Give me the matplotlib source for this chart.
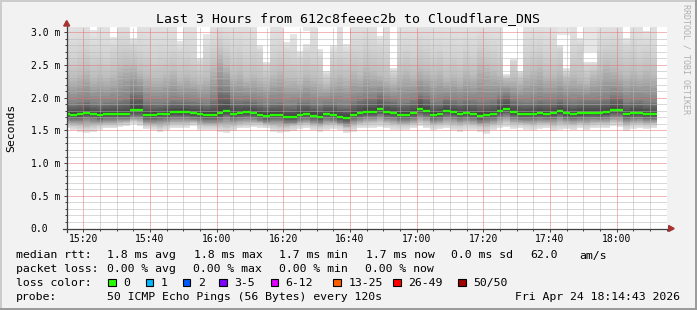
import numpy as np
import pandas as pd
import matplotlib
matplotlib.use("Agg")
import matplotlib.pyplot as plt
import matplotlib.dates as mdates
from matplotlib.patches import Rectangle, Polygon
from matplotlib.lines import Line2D
from matplotlib.ticker import MultipleLocator, FuncFormatter

W, H = 697, 310
plt.rcParams["font.family"] = "DejaVu Sans Mono"

# one value per 2 minute step, first step starts 15:14 (ms)
median = [
    1.750, 1.735, 1.745, 1.765, 1.750, 1.735, 1.750, 1.750, 1.750, 1.750, 1.806, 1.806, 1.735, 1.735, 1.750, 1.750, 1.775, 1.775, 1.775,
    1.760, 1.750, 1.735, 1.735, 1.760, 1.790, 1.750, 1.765, 1.775, 1.765, 1.740, 1.725, 1.740, 1.740, 1.705, 1.705, 1.740, 1.750,
    1.725, 1.705, 1.750, 1.740, 1.705, 1.690, 1.740, 1.765, 1.780, 1.780, 1.820, 1.775, 1.765, 1.740, 1.740, 1.765, 1.825, 1.795,
    1.740, 1.750, 1.795, 1.775, 1.750, 1.765, 1.750, 1.720, 1.740, 1.750, 1.795, 1.825, 1.775, 1.750, 1.750, 1.750, 1.765, 1.750,
    1.760, 1.790, 1.760, 1.745, 1.760, 1.765, 1.765, 1.765, 1.775, 1.806, 1.806, 1.745, 1.765, 1.765, 1.745, 1.745,
]
smoke_max = [
    3.20, 3.20, 3.20, 3.20, 3.03, 3.20, 3.20, 2.93, 3.20, 3.20, 2.91, 3.20, 3.20, 3.20, 3.20, 3.20, 3.20, 2.86, 3.20,
    3.20, 2.61, 2.97, 3.20, 3.20, 3.20, 3.20, 3.20, 3.20, 3.20, 2.80, 2.55, 3.20, 3.20, 2.85, 2.97, 2.71, 2.82,
    3.20, 2.75, 2.40, 2.80, 3.20, 2.82, 3.20, 3.20, 3.20, 3.20, 2.94, 3.20, 2.46, 3.20, 3.20, 3.20, 3.20, 3.20,
    3.20, 3.20, 3.20, 3.20, 3.20, 3.20, 3.20, 3.20, 3.20, 3.20, 3.20, 2.36, 2.59, 2.41, 3.20, 3.20, 3.20, 3.20,
    3.20, 2.81, 2.45, 3.20, 2.91, 2.55, 2.55, 3.20, 3.20, 3.20, 3.20, 2.91, 3.20, 3.20, 3.02, 3.20,
]
smoke_up3 = [
    2.70, 2.65, 2.75, 2.80, 2.70, 2.70, 2.65, 2.75, 2.85, 2.85, 2.80, 2.75, 2.70, 2.65, 2.70, 2.70, 2.75, 2.70, 2.70,
    2.65, 2.55, 2.70, 2.80, 2.95, 2.85, 2.75, 2.80, 2.70, 2.75, 2.70, 2.50, 2.70, 2.75, 2.70, 2.65, 2.60, 2.70,
    2.65, 2.60, 2.35, 2.65, 2.70, 2.65, 2.75, 2.75, 2.85, 2.80, 2.75, 2.70, 2.40, 2.70, 2.75, 2.70, 2.85, 2.80,
    2.70, 2.75, 2.65, 2.70, 2.65, 2.75, 2.70, 2.85, 2.80, 2.75, 2.70, 2.33, 2.55, 2.38, 2.70, 2.75, 2.80, 2.70,
    2.70, 2.75, 2.40, 2.70, 2.80, 2.50, 2.50, 2.75, 2.80, 2.85, 2.85, 2.75, 2.80, 2.70, 2.75, 2.70,
]
smoke_up2 = [
    2.35, 2.30, 2.35, 2.40, 2.30, 2.35, 2.30, 2.35, 2.45, 2.50, 2.50, 2.40, 2.35, 2.30, 2.30, 2.35, 2.40, 2.30, 2.35,
    2.30, 2.25, 2.30, 2.45, 2.65, 2.50, 2.35, 2.40, 2.30, 2.35, 2.30, 2.25, 2.35, 2.40, 2.30, 2.30, 2.25, 2.35,
    2.30, 2.25, 2.20, 2.30, 2.35, 2.30, 2.40, 2.35, 2.45, 2.40, 2.35, 2.30, 2.25, 2.35, 2.40, 2.35, 2.45, 2.40,
    2.35, 2.40, 2.30, 2.35, 2.30, 2.40, 2.35, 2.50, 2.45, 2.40, 2.35, 2.28, 2.30, 2.25, 2.35, 2.40, 2.45, 2.35,
    2.35, 2.40, 2.30, 2.35, 2.30, 2.25, 2.35, 2.40, 2.50, 2.45, 2.40, 2.35, 2.40, 2.35, 2.40, 2.35,
]
smoke_up1 = [
    1.93, 1.92, 1.94, 1.96, 1.93, 1.92, 1.94, 1.95, 1.97, 2.00, 2.10, 2.08, 1.95, 1.93, 1.93, 1.94, 1.97, 1.96, 1.96,
    1.95, 1.94, 1.92, 1.98, 2.15, 2.12, 1.98, 1.97, 1.98, 1.96, 1.93, 1.91, 1.93, 1.94, 1.90, 1.91, 1.94, 1.95,
    1.92, 1.90, 1.93, 1.93, 1.91, 1.90, 1.95, 1.98, 2.00, 2.00, 2.05, 1.98, 1.96, 1.93, 1.94, 1.97, 2.06, 2.02,
    1.94, 1.95, 1.99, 1.97, 1.95, 1.97, 1.96, 1.94, 1.95, 1.96, 2.02, 2.06, 1.98, 1.95, 1.94, 1.95, 1.97, 1.96,
    1.96, 1.99, 1.96, 1.95, 1.96, 1.97, 1.97, 1.97, 1.99, 2.04, 2.03, 1.94, 1.96, 1.97, 1.95, 1.94,
]
smoke_dn1 = [
    1.66, 1.65, 1.65, 1.67, 1.66, 1.64, 1.66, 1.66, 1.67, 1.67, 1.70, 1.70, 1.64, 1.64, 1.65, 1.66, 1.68, 1.68, 1.68,
    1.67, 1.66, 1.64, 1.64, 1.66, 1.69, 1.66, 1.67, 1.68, 1.67, 1.65, 1.63, 1.65, 1.65, 1.62, 1.62, 1.65, 1.66,
    1.64, 1.62, 1.66, 1.65, 1.62, 1.60, 1.65, 1.67, 1.69, 1.69, 1.72, 1.68, 1.67, 1.65, 1.65, 1.67, 1.72, 1.70,
    1.65, 1.66, 1.70, 1.68, 1.66, 1.67, 1.66, 1.63, 1.65, 1.66, 1.70, 1.72, 1.68, 1.66, 1.66, 1.66, 1.67, 1.66,
    1.67, 1.70, 1.67, 1.66, 1.67, 1.67, 1.68, 1.67, 1.68, 1.71, 1.71, 1.66, 1.67, 1.68, 1.66, 1.66,
]
smoke_dn2 = [
    1.58, 1.56, 1.55, 1.54, 1.55, 1.57, 1.58, 1.58, 1.60, 1.61, 1.64, 1.62, 1.57, 1.56, 1.54, 1.56, 1.59, 1.59, 1.59,
    1.61, 1.57, 1.56, 1.56, 1.55, 1.54, 1.56, 1.58, 1.59, 1.60, 1.60, 1.58, 1.55, 1.54, 1.54, 1.56, 1.58, 1.59,
    1.56, 1.55, 1.57, 1.58, 1.56, 1.53, 1.55, 1.59, 1.60, 1.61, 1.62, 1.60, 1.58, 1.57, 1.57, 1.59, 1.62, 1.60,
    1.57, 1.58, 1.59, 1.57, 1.56, 1.58, 1.57, 1.55, 1.53, 1.57, 1.59, 1.62, 1.59, 1.59, 1.58, 1.57, 1.59, 1.59,
    1.56, 1.58, 1.58, 1.57, 1.59, 1.57, 1.59, 1.60, 1.59, 1.62, 1.61, 1.56, 1.59, 1.59, 1.58, 1.59,
]
smoke_min = [
    1.53, 1.50, 1.48, 1.46, 1.48, 1.51, 1.53, 1.53, 1.55, 1.56, 1.59, 1.57, 1.52, 1.50, 1.47, 1.50, 1.53, 1.53, 1.54,
    1.57, 1.50, 1.50, 1.50, 1.48, 1.46, 1.49, 1.53, 1.53, 1.55, 1.54, 1.53, 1.48, 1.46, 1.47, 1.49, 1.52, 1.53,
    1.50, 1.48, 1.50, 1.52, 1.50, 1.46, 1.48, 1.53, 1.54, 1.54, 1.55, 1.53, 1.51, 1.50, 1.51, 1.53, 1.56, 1.53,
    1.50, 1.52, 1.53, 1.50, 1.48, 1.51, 1.50, 1.47, 1.45, 1.50, 1.53, 1.55, 1.52, 1.53, 1.51, 1.50, 1.52, 1.53,
    1.49, 1.51, 1.52, 1.50, 1.53, 1.50, 1.53, 1.54, 1.53, 1.56, 1.55, 1.49, 1.52, 1.53, 1.52, 1.53,
]
# detached outlier smoke reaching above the graph
outlier_steps = ["16:26", "17:42", "17:44", "17:50", "17:52"]
outlier_low = [3.02, 2.96, 2.96, 2.70, 2.70]

y_ticks = [0.0, 0.5, 1.0, 1.5, 2.0, 2.5, 3.0]
loss_labels = ["0", "1", "2", "3-5", "6-12", "13-25", "26-49", "50/50"]
loss_colors = ["#26ff00", "#00b8ff", "#0059ff", "#7e00ff", "#dd00ff", "#ff5e00", "#ff0000", "#a10000"]

DAY = "2026-04-24 "
steps = pd.date_range(DAY + "15:14", periods=len(median), freq="2min")
x = mdates.date2num(steps.to_pydatetime())
dx = 2 / 1440.0
xe = np.append(x, x[-1] + dx)


def st(a):
    a = np.asarray(a, dtype=float)
    return np.append(a, a[-1])


fig = plt.figure(figsize=(W / 100, H / 100), dpi=100, facecolor="#f2f2f2")
ax = fig.add_axes([66.7 / W, 81.5 / H, 600 / W, 201.5 / H])
ax.set_facecolor("white")

# smoke: shade each column from light at the extremes to dark at the median
levels = [smoke_min, smoke_dn2, smoke_dn1, median, smoke_up1, smoke_up2, smoke_up3, smoke_max]
greys = [230, 205, 135, 60, 130, 188, 212, 230]
SUB = 8
for i in range(len(levels) - 1):
    a, b = st(levels[i]), st(levels[i + 1])
    for k in range(SUB):
        f0, f1 = k / SUB, (k + 1) / SUB
        g = greys[i] + (greys[i + 1] - greys[i]) * (k + 0.5) / SUB
        ax.fill_between(xe, a + (b - a) * f0, a + (b - a) * f1, step="post",
                        color=str(g / 255), lw=0, antialiased=False, zorder=1)
ox = mdates.date2num(pd.to_datetime([DAY + s for s in outlier_steps]).to_pydatetime())
ax.bar(ox, 3.3 - np.array(outlier_low), bottom=outlier_low, width=dx, align="edge",
       color=str(230 / 255), lw=0, zorder=1)
med = ax.hlines(median, x, x + dx, colors=loss_colors[0], lw=1.7, zorder=3)
med.set_capstyle("butt")

ax.set_xlim(mdates.date2num(pd.Timestamp(DAY + "15:15")), mdates.date2num(pd.Timestamp(DAY + "18:15")))
ax.set_ylim(0, 3.08)

ax.xaxis.set_major_locator(mdates.MinuteLocator(byminute=[0, 20, 40]))
ax.xaxis.set_minor_locator(mdates.MinuteLocator(byminute=range(0, 60, 5)))
ax.xaxis.set_major_formatter(mdates.DateFormatter("%H:%M"))
ax.set_yticks(y_ticks)
ax.yaxis.set_minor_locator(MultipleLocator(0.1))
ax.yaxis.set_major_formatter(FuncFormatter(lambda v, p: "0.0" if v == 0 else f"{v:.1f} m"))

ax.grid(which="major", color="#e87070", lw=0.72, ls=(0, (1, 1)))
ax.grid(which="minor", color="#b4b4b4", lw=0.72, ls=(0, (1, 1)))
ax.set_axisbelow(False)

axis_col = "#404040"
ax.tick_params(axis="x", which="major", direction="out", length=2.2, width=0.72, color=axis_col,
               pad=2, labelsize=7.05)
ax.tick_params(axis="x", which="minor", direction="out", length=1.4, width=0.72, color=axis_col)
ax.tick_params(axis="y", which="major", direction="out", length=2.2, width=0.72, color=axis_col,
               pad=23.8, labelsize=7.05)
ax.tick_params(axis="y", which="minor", direction="out", length=1.4, width=0.72, color=axis_col)
for lab in ax.get_yticklabels():
    lab.set_horizontalalignment("left")

for s in ax.spines.values():
    s.set_visible(False)
ax.add_line(Line2D([-4 / 600, 1 + 5 / 600], [0, 0], transform=ax.transAxes, color=axis_col,
                   lw=0.9, clip_on=False, zorder=4))
ax.add_line(Line2D([0, 0], [-3 / 201.5, 1 + 2 / 201.5], transform=ax.transAxes, color=axis_col,
                   lw=0.9, clip_on=False, zorder=4))
arrow_col = "#a83232"
ax.add_patch(Polygon([[-3 / 600, 1 + 1 / 201.5], [3 / 600, 1 + 1 / 201.5], [0, 1 + 6.5 / 201.5]],
                     closed=True, transform=ax.transAxes, color=arrow_col, clip_on=False, zorder=5))
ax.add_patch(Polygon([[1 + 2 / 600, -3 / 201.5], [1 + 2 / 600, 3 / 201.5], [1 + 7.5 / 600, 0]],
                     closed=True, transform=ax.transAxes, color=arrow_col, clip_on=False, zorder=5))

fig.text(0.5, 1 - 19 / H, "Last 3 Hours from 612c8feeec2b to Cloudflare_DNS",
         ha="center", va="center", size=9.5)
fig.text(11 / W, 1 - 127.5 / H, "Seconds", rotation=90, ha="center", va="center", size=8.25)
fig.text(686 / W, 1 - 4 / H, "RRDTOOL / TOBI OETIKER", rotation=270, ha="center", va="top",
         size=6, color="#b0b0b0")


def ftext(px, py, s, **kw):
    fig.text(px / W, 1 - py / H, s, size=8.25, va="baseline", **kw)


ftext(16, 258.5, "median rtt:")
for px, s in zip([107, 194, 279, 366, 451, 530, 579],
                 ["1.8 ms avg", "1.8 ms max", "1.7 ms min", "1.7 ms now", "0.0 ms sd", "62.0", "am/s"]):
    ftext(px, 258.5, s)
ftext(16, 272.3, "packet loss:")
for px, s in zip([107, 193.3, 279, 365.3], ["0.00 % avg", "0.00 % max", "0.00 % min", "0.00 % now"]):
    ftext(px, 272.3, s)
ftext(16, 286, "loss color:")
box_x = [108.3, 145.7, 182.7, 219.3, 270.7, 333.3, 393.3, 458.3]
for bx, lab, col in zip(box_x, loss_labels, loss_colors):
    fig.add_artist(Rectangle((bx / W, 1 - 286 / H), 7.5 / W, 7.5 / H, transform=fig.transFigure,
                             facecolor=col, edgecolor="black", lw=0.8))
    ftext(bx + 15, 286, lab)
ftext(16, 300, "probe:")
ftext(107, 300, "50 ICMP Echo Pings (56 Bytes) every 120s")
ftext(680, 300, "Fri Apr 24 18:14:43 2026", ha="right")

# frame shading
fig.add_artist(Line2D([0, 1], [1 - 0.5 / H, 1 - 0.5 / H], transform=fig.transFigure, color="#cbcbcb", lw=1.4))
fig.add_artist(Line2D([0.5 / W, 0.5 / W], [0, 1], transform=fig.transFigure, color="#cbcbcb", lw=1.4))
fig.add_artist(Line2D([0, 1], [1 / H, 1 / H], transform=fig.transFigure, color="#999999", lw=1.4))
fig.add_artist(Line2D([1 - 1 / W, 1 - 1 / W], [0, 1], transform=fig.transFigure, color="#999999", lw=1.4))

fig.savefig("out.png", dpi=100, facecolor=fig.get_facecolor())
